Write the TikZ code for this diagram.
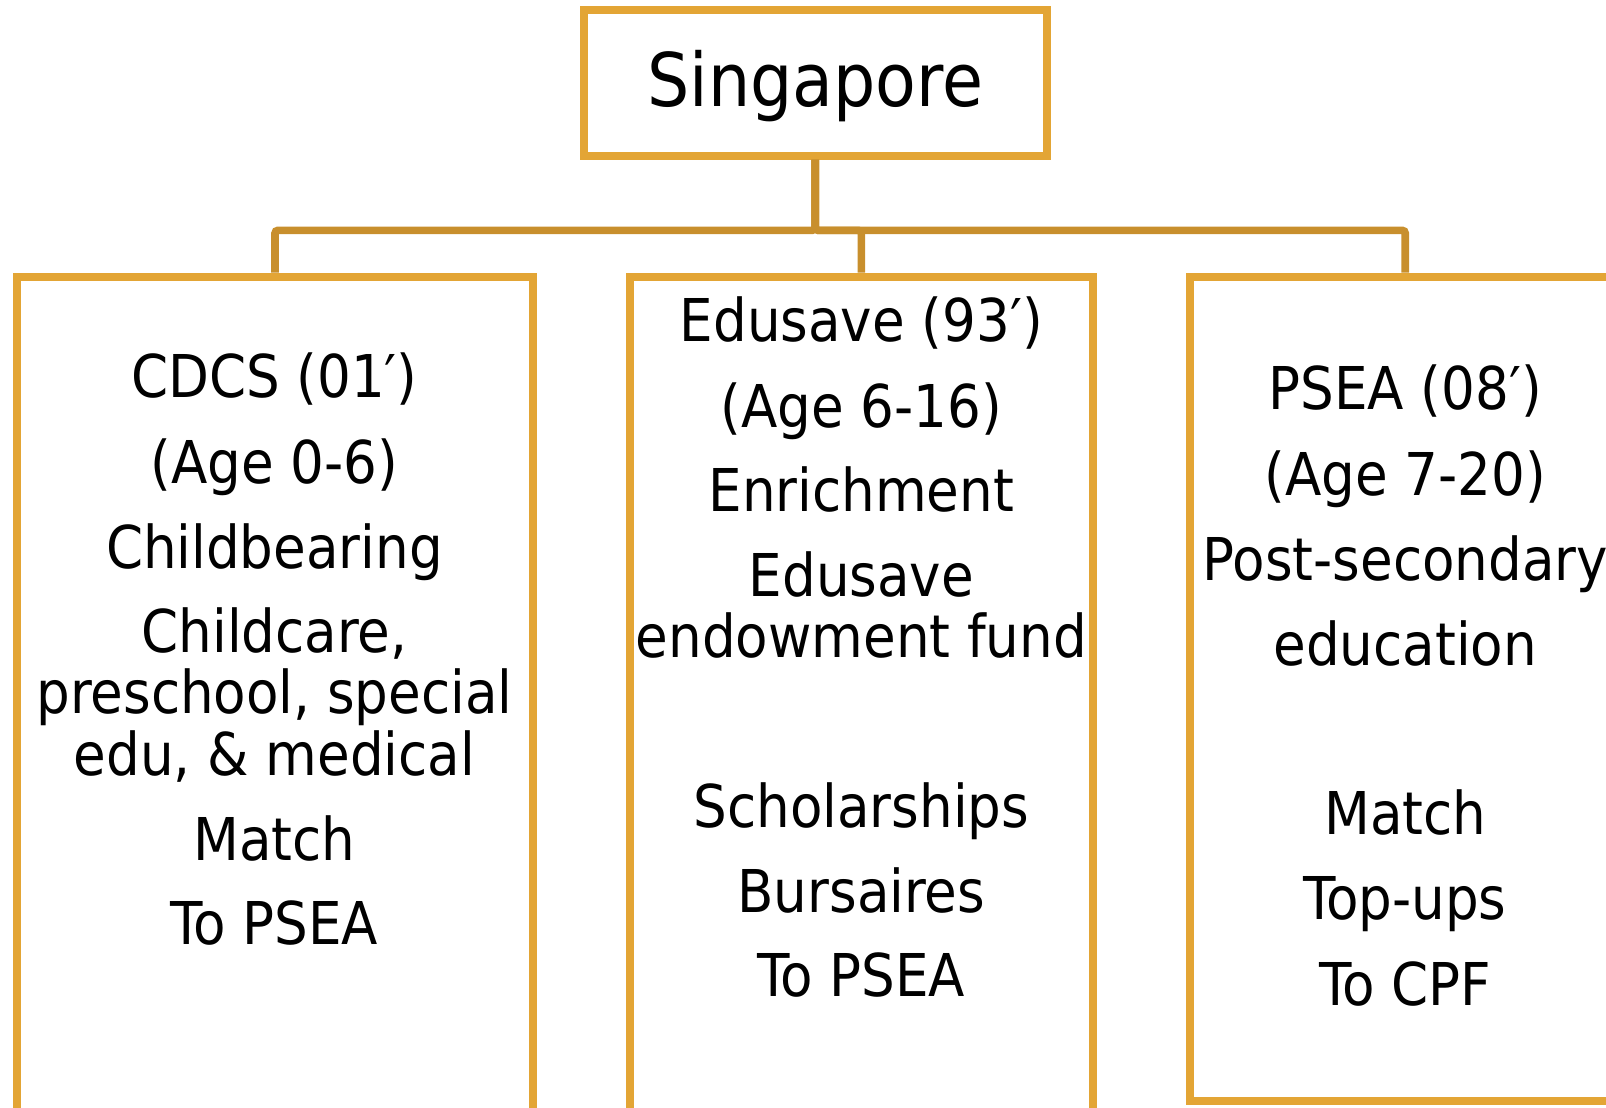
\documentclass[tikz,border=0pt]{standalone}
\usepackage{fontspec}
\setmainfont{DejaVu Sans Condensed}
\usetikzlibrary{positioning}
\definecolor{boxgold}{HTML}{E3A535}
\definecolor{linkgold}{HTML}{C88F2D}
\tikzstyle{panel} = [draw=boxgold, line width=8pt, rectangle, inner sep=0pt]
\tikzstyle{link} = [draw=linkgold, line width=7.6pt, rounded corners=3pt]
\tikzstyle{entry} = [anchor=base, inner sep=0pt, font=\fontsize{59}{60}\selectfont]

\begin{document}
\begin{tikzpicture}[x=1.0242pt, y=-1.0242pt]
  \useasboundingbox (0,0) rectangle (1568,1081);

  % boxes
  \node[panel, minimum width=463pt, minimum height=145.4pt] (sg) at (796,81) {};
  \node[panel, minimum width=515.2pt, minimum height=891pt] (cdcs) at (268.5,705) {};
  \node[panel, minimum width=463pt, minimum height=891pt] (edu) at (841,705) {};
  \node[panel, minimum width=489.6pt, minimum height=824.5pt] (psea) at (1401,672.5) {};

  % title
  \path (796,104) node[entry, font=\fontsize{74}{76}\selectfont] (sgtitle) {Singapore};

  % CDCS
  \foreach \y/\txt [count=\i] in {388/CDCS (01′), 472/(Age 0-6), 555/Childbearing,
    637/{Childcare,}, 697/{preschool, special}, 757/{edu, \& medical},
    840/Match, 922/To PSEA} {
    \path (268,\y) node[entry] (cdcs\i) {\txt};
  }

  % Edusave
  \foreach \y/\txt [count=\i] in {333/Edusave (93′), 417/(Age 6-16), 499/Enrichment,
    582/Edusave, 642/endowment fund, 808/Scholarships, 891/Bursaires,
    973/To PSEA} {
    \path (841,\y) node[entry] (edu\i) {\txt};
  }

  % PSEA
  \foreach \y/\txt [count=\i] in {400/PSEA (08′), 484/(Age 7-20), 567/Post-secondary,
    650/education, 815/Match, 898/Top-ups, 982/To CPF} {
    \path (1372,\y) node[entry] (psea\i) {\txt};
  }

  % tree links
  \draw[link] (sg.south) -- ++(0,69) -| (cdcs.north);
  \draw[link] (sg.south) -- ++(0,69) -| (edu.north);
  \draw[link] (sg.south) -- ++(0,69) -| (psea1 |- psea.north);
\end{tikzpicture}
\end{document}
